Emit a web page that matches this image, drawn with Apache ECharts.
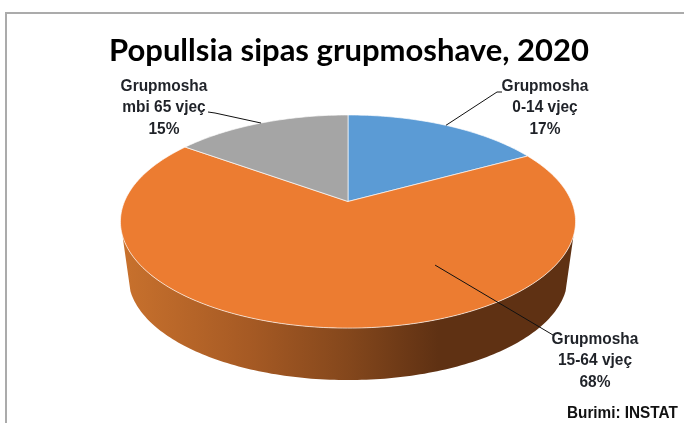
<!DOCTYPE html>
<html><head><meta charset="utf-8">
<style>html,body{margin:0;padding:0;background:#fff}#c{width:684px;height:423px}</style>
<script src="https://cdn.jsdelivr.net/npm/echarts@6/dist/echarts.min.js"></script>
</head><body><div id="c"></div>
<script>
const titleText = 'Popullsia sipas grupmoshave, 2020';
const sourceText = 'Burimi: INSTAT';
const categories = ['Grupmosha\n0-14 vjeç', 'Grupmosha\n15-64 vjeç', 'Grupmosha\nmbi 65 vjeç'];
const values = [17, 68, 15];
const colors = ['#5B9BD5', '#EC7C31', '#A5A5A5'];

// Layout only: label centre, leader elbow/end, leader anchor on the disc
const labelPos = [[545, 86], [595, 339], [164, 86]];
const leaderEnd = [[[497, 92], [502, 92]], [[553, 335]], [[215, 113], [208, 112]]];
const leaderAnchor = [[30.6, 1], [147.8, 0.655], [-27, 1]];

// Perspective disc
const CX = 348, CY = 201.5, RX = 223.5, RY = 102.8, K = 0.188;
const BASE_DY = 56.4, BASE_F = 0.965, SIL = 108.4;
const total = values.reduce((a, b) => a + b, 0);
function proj(deg, r, base) {
  const t = deg * Math.PI / 180, xu = r * Math.sin(t), yu = -r * Math.cos(t), w = 1 - K * yu;
  const f = base ? BASE_F : 1;
  return [CX + f * RX * xu / w, CY + (base ? BASE_DY : 0) + f * RY * yu / w];
}
function arc(a, b, base) {
  const pts = [], n = Math.max(2, Math.ceil(Math.abs(b - a)));
  for (let i = 0; i <= n; i++) pts.push(proj(a + (b - a) * i / n, 1, base));
  return pts;
}

function renderSlice(params, api) {
  const i = params.dataIndex, v = api.value(0);
  let start = 0;
  for (let j = 0; j < i; j++) start += values[j];
  const a = start / total * 360, b = (start + v) / total * 360;
  const children = [];
  const wa = Math.max(a, SIL), wb = Math.min(b, 360 - SIL);
  if (wb > wa) {
    children.push({
      type: 'polygon',
      shape: { points: arc(wa, wb, false).concat(arc(wb, wa, true)) },
      style: {
        fill: new echarts.graphic.LinearGradient(0, 0, 1, 0, [
          { offset: 0, color: '#C8712D' },
          { offset: 0.28, color: '#A65A24' },
          { offset: 0.5, color: '#84471C' },
          { offset: 0.7, color: '#5F3113' },
          { offset: 1, color: '#5F3113' }
        ])
      }
    });
  }
  children.push({
    type: 'polygon',
    shape: { points: [[CX, CY]].concat(arc(a, b, false)) },
    style: { fill: colors[i], stroke: 'rgba(255,255,255,0.65)', lineWidth: 1 }
  });
  const p0 = proj(leaderAnchor[i][0], leaderAnchor[i][1], false);
  children.push({
    type: 'polyline',
    shape: { points: [p0].concat(leaderEnd[i]) },
    style: { fill: null, stroke: '#111', lineWidth: 1 }
  });
  children.push({
    type: 'text',
    x: labelPos[i][0], y: labelPos[i][1] - 10.5,
    scaleX: 0.91,
    style: {
      text: categories[i] + '\n' + v + '%',
      x: 0, y: 0,
      align: 'center', verticalAlign: 'top',
      font: 'bold 17px "Liberation Sans", Arial, sans-serif',
      lineHeight: 21.5, fill: '#1f2228'
    }
  });
  return { type: 'group', children };
}

const chart = echarts.init(document.getElementById('c'), null, { renderer: 'canvas' });
chart.setOption({
  backgroundColor: '#fff',
  animation: false,
  title: {
    text: titleText, left: 104, top: 30,
    textStyle: { fontFamily: 'Lato', fontWeight: 'bold', fontSize: 31, color: '#000' }
  },
  graphic: [
    { type: 'line', silent: true, shape: { x1: 6, y1: 13, x2: 684, y2: 13 }, style: { stroke: '#ABABAB', lineWidth: 2 } },
    { type: 'line', silent: true, shape: { x1: 6, y1: 12, x2: 6, y2: 423 }, style: { stroke: '#ABABAB', lineWidth: 2 } },
    { type: 'text', silent: true, x: 567, y: 405, scaleX: 0.9, style: { text: sourceText, font: 'bold 17px "Liberation Sans", Arial, sans-serif', fill: '#111' } }
  ],
  series: [{
    type: 'custom',
    coordinateSystem: 'none',
    renderItem: renderSlice,
    clip: false,
    data: values.map((v, i) => ({ name: categories[i], value: [v] }))
  }]
});
</script></body></html>
